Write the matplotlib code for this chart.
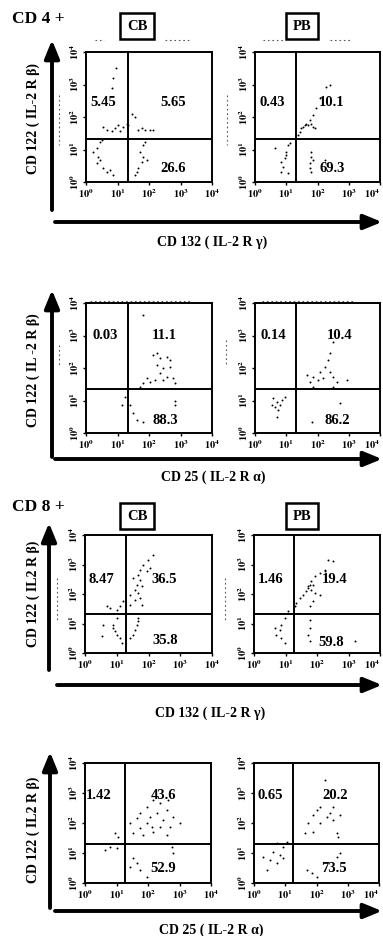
import numpy as np
import matplotlib
matplotlib.use("Agg")
import matplotlib.pyplot as plt

plt.rcParams["font.family"] = ["Liberation Serif", "DejaVu Serif"]
plt.rcParams["font.weight"] = "bold"
plt.rcParams["mathtext.fontset"] = "stix"

W, H = 383, 936

# quadrant percentages per panel: [upper-left, upper-right, lower-right]
cd4_cd132_cb = [5.45, 5.65, 26.6]
cd4_cd132_pb = [0.43, 10.1, 69.3]
cd4_cd25_cb = [0.03, 11.1, 88.3]
cd4_cd25_pb = [0.14, 10.4, 86.2]
cd8_cd132_cb = [8.47, 36.5, 35.8]
cd8_cd132_pb = [1.46, 19.4, 59.8]
cd8_cd25_cb = [1.42, 43.6, 52.9]
cd8_cd25_pb = [0.65, 20.2, 73.5]

# quadrant gates (fluorescence units)
gate_x = [21, 20, 21, 20, 19.5, 18.5, 18.5, 18]
gate_y = [21, 21, 22, 22, 21, 21, 20, 20]

# events (log10 of fluorescence)
dots_1x = [0.95, 0.86, 0.83, 0.54, 0.67, 0.83, 0.92, 1.02, 1.08, 1.17, 1.3, 1.33, 1.46, 1.56,
           1.65, 1.78, 1.87, 2.03, 2.13, 0.35, 0.22, 0.38, 0.44, 0.35, 0.54, 0.67, 0.76, 0.86,
           0.44, 0.5, 1.71, 1.81, 1.78, 1.65, 1.56, 1.94, 1.81, 1.87, 1.62]
dots_1y = [3.5, 3.2, 2.9, 1.7, 1.6, 1.57, 1.66, 1.75, 1.57, 1.7, 1.8, 1.75, 2.1, 2.0,
           1.6, 1.66, 1.6, 1.6, 1.6, 1.05, 0.92, 0.77, 0.68, 0.58, 0.43, 0.31, 0.37, 0.22,
           1.23, 1.3, 0.92, 0.77, 0.62, 0.43, 0.22, 0.68, 1.14, 1.23, 0.31]
dots_2x = [2.27, 2.4, 2.08, 1.95, 1.86, 1.76, 1.63, 1.6, 1.7, 1.79, 1.86, 1.54, 1.47, 1.44,
           1.92, 1.38, 1.06, 0.99, 0.96, 0.83, 0.9, 1.06, 0.99, 1.12, 0.64, 0.83, 1.79, 1.79,
           1.76, 1.76, 1.79, 2.24, 1.86]
dots_2y = [2.92, 2.98, 2.58, 2.28, 2.06, 1.9, 1.8, 1.75, 1.75, 1.8, 1.7, 1.7, 1.66, 1.54,
           1.66, 1.45, 1.14, 0.92, 0.74, 0.62, 0.46, 0.28, 0.83, 1.2, 1.05, 0.31, 0.92, 0.77,
           0.58, 0.43, 0.31, 0.68, 0.68]
dots_3x = [1.81, 2.13, 2.25, 2.44, 2.67, 2.35, 2.57, 2.76, 1.94, 2.03, 1.81, 2.19, 2.44, 2.83,
           1.71, 2.25, 2.57, 2.67, 2.35, 1.4, 1.49, 1.62, 1.81, 2.83, 2.83, 1.14, 1.24]
dots_3y = [3.63, 2.4, 2.1, 2.0, 2.03, 1.85, 1.72, 1.69, 1.69, 1.57, 1.54, 1.63, 1.63, 1.54,
           1.42, 2.46, 2.34, 2.25, 2.3, 0.86, 0.62, 0.4, 0.34, 1.0, 0.86, 0.86, 1.1]
dots_4x = [2.5, 2.4, 2.34, 2.24, 2.08, 2.4, 2.5, 1.86, 2.02, 2.18, 1.76, 1.66, 2.62, 2.94,
           1.86, 2.5, 0.58, 0.7, 0.8, 0.64, 0.74, 0.86, 0.54, 0.7, 0.96, 2.72, 1.82]
dots_4y = [2.8, 2.46, 2.25, 2.03, 1.88, 1.88, 1.72, 1.72, 1.63, 1.69, 1.57, 1.78, 1.57, 1.63,
           1.42, 1.42, 1.08, 0.95, 0.86, 0.8, 0.71, 1.02, 0.86, 0.49, 1.11, 0.92, 0.34]
dots_5x = [2.14, 1.98, 1.83, 1.73, 1.67, 1.51, 1.73, 1.64, 1.8, 1.57, 1.67, 1.42, 1.73, 1.57,
           1.8, 1.42, 1.95, 2.05, 1.2, 1.1, 1.0, 0.69, 0.79, 1.0, 0.88, 0.94, 1.0, 1.1, 0.57,
           0.54, 0.88, 1.17, 1.67, 1.64, 1.57, 1.51, 1.42, 1.67]
dots_5y = [3.32, 3.15, 2.98, 2.81, 2.64, 2.54, 2.47, 2.3, 2.27, 2.14, 2.03, 1.97, 1.86, 1.8,
           1.63, 1.63, 2.78, 2.88, 1.76, 1.6, 1.46, 1.6, 1.53, 1.19, 0.95, 0.75, 0.61, 0.51,
           0.95, 0.58, 0.85, 0.34, 1.19, 0.95, 0.78, 0.61, 0.51, 1.08]
dots_6x = [2.35, 2.5, 2.25, 2.1, 1.94, 1.81, 1.78, 1.87, 1.71, 1.65, 1.81, 1.56, 1.94, 1.46,
           1.33, 1.3, 1.87, 1.78, 2.1, 2.25, 1.71, 1.08, 0.98, 0.86, 0.83, 0.7, 0.86, 0.98,
           0.67, 1.78, 1.78, 1.71, 1.78, 3.2]
dots_6y = [3.15, 3.12, 2.81, 2.71, 2.61, 2.44, 2.3, 2.3, 2.2, 2.1, 2.14, 1.97, 2.03, 1.86,
           1.69, 1.6, 1.76, 1.6, 1.97, 2.78, 2.27, 1.42, 1.19, 0.95, 0.78, 0.61, 0.51, 0.34,
           0.85, 1.12, 0.85, 0.61, 0.41, 0.41]
dots_7x = [1.75, 1.97, 2.16, 2.38, 2.29, 2.48, 2.6, 1.97, 2.13, 1.75, 2.38, 2.7, 2.79, 3.0,
           1.52, 1.84, 2.16, 2.6, 1.43, 1.65, 2.63, 2.06, 0.95, 1.05, 0.79, 1.02, 0.63, 1.52,
           1.65, 1.75, 1.97, 2.79, 2.76, 1.43]
dots_7y = [2.33, 2.53, 2.77, 2.67, 2.33, 2.1, 2.43, 2.0, 1.87, 1.83, 1.87, 1.87, 2.2, 2.0,
           1.67, 1.6, 1.7, 1.6, 2.0, 2.17, 2.77, 2.2, 1.67, 1.53, 1.2, 1.17, 1.1, 0.83, 0.67,
           0.43, 0.2, 1.0, 1.2, 0.53]
dots_8x = [2.27, 2.11, 2.43, 2.34, 2.53, 2.66, 2.69, 1.89, 1.73, 1.63, 1.89, 2.11, 2.02, 2.53,
           2.75, 0.74, 0.93, 0.61, 0.83, 0.51, 0.74, 0.93, 0.42, 1.06, 0.29, 1.7, 1.86, 2.02,
           2.66, 2.75]
dots_8y = [3.43, 2.53, 2.33, 2.2, 2.1, 1.67, 1.53, 2.27, 2.0, 1.67, 1.7, 2.0, 2.43, 2.53,
           2.27, 1.33, 1.2, 1.03, 0.93, 0.77, 0.67, 0.83, 0.43, 1.37, 0.87, 0.43, 0.33, 0.2,
           0.87, 1.0]

panel_values = [cd4_cd132_cb, cd4_cd132_pb, cd4_cd25_cb, cd4_cd25_pb,
                cd8_cd132_cb, cd8_cd132_pb, cd8_cd25_cb, cd8_cd25_pb]
panel_dots = [(dots_1x, dots_1y), (dots_2x, dots_2y), (dots_3x, dots_3y), (dots_4x, dots_4y),
              (dots_5x, dots_5y), (dots_6x, dots_6y), (dots_7x, dots_7y), (dots_8x, dots_8y)]

decades = [1, 10, 100, 1000, 10000]
decade_labels = [r"$10^{0}$", r"$10^{1}$", r"$10^{2}$", r"$10^{3}$", r"$10^{4}$"]

# panel boxes in pixels: left, top, right, bottom
boxes = [(86, 52, 212, 182), (255, 52, 380, 182),
         (86, 303, 212, 433), (255, 303, 380, 433),
         (85, 535, 212, 653), (254, 535, 380, 653),
         (85, 763, 211, 883), (254, 763, 379, 883)]
# label anchor (axes fraction) for UL, UR, LR per panel
label_pos = [
    [(0.14, 0.615), (0.69, 0.615), (0.69, 0.10)],
    [(0.14, 0.615), (0.61, 0.615), (0.62, 0.10)],
    [(0.15, 0.75), (0.62, 0.75), (0.63, 0.10)],
    [(0.15, 0.75), (0.68, 0.75), (0.66, 0.10)],
    [(0.13, 0.62), (0.62, 0.62), (0.63, 0.11)],
    [(0.13, 0.62), (0.64, 0.62), (0.61, 0.085)],
    [(0.11, 0.73), (0.62, 0.73), (0.62, 0.125)],
    [(0.13, 0.73), (0.65, 0.73), (0.64, 0.125)],
]


def frac(l, t, r, b):
    return [l / W, 1 - b / H, (r - l) / W, (b - t) / H]


fig = plt.figure(figsize=(W / 100, H / 100), dpi=100)

# overlay for arrows, titles and axis names (pixel coordinates)
ov = fig.add_axes([0, 0, 1, 1])
ov.set_xlim(0, W)
ov.set_ylim(H, 0)
ov.axis("off")

for i, (box, vals, (dx, dy)) in enumerate(zip(boxes, panel_values, panel_dots)):
    ax = fig.add_axes(frac(*box))
    ax.scatter(10 ** np.array(dx), 10 ** np.array(dy), s=2, color="black", linewidths=0)
    ax.set_xscale("log")
    ax.set_yscale("log")
    ax.set_xlim(1, 10000)
    ax.set_ylim(1, 10000)
    ax.axvline(gate_x[i], color="black", lw=1.4)
    ax.axhline(gate_y[i], color="black", lw=1.4)
    for sp in ax.spines.values():
        sp.set_linewidth(1.4)
    ax.set_xticks(decades)
    xt = ax.set_xticklabels(decade_labels, fontsize=7.5)
    if box[2] > 370:
        xt[-1].set_ha("right")
    ax.set_yticks(decades)
    ax.set_yticklabels(decade_labels, fontsize=7.5, rotation=90, va="center")
    ax.tick_params(which="major", direction="out", length=2.5, width=1, pad=1)
    ax.tick_params(which="minor", direction="out", length=1.5, width=0.6)
    for v, (px, py) in zip(vals, label_pos[i]):
        ax.text(px, py, f"{v:g}" if v >= 1 else f"{v:.2f}", transform=ax.transAxes,
                ha="center", va="center", fontsize=10.5, fontweight="bold")

arrow_kw = dict(arrowstyle="-|>,head_length=1.1,head_width=0.45", lw=2.8, color="black",
                shrinkA=0, shrinkB=0)
# y arrows: x, bottom, top
for x, yb, yt in [(52, 210, 40), (52, 457, 290), (49, 670, 523), (50, 908, 752)]:
    ov.annotate("", xy=(x, yt), xytext=(x, yb), arrowprops=arrow_kw)
# x arrows: y, start
for y, xs in [(222, 55), (459, 55), (685, 57), (911, 55)]:
    ov.annotate("", xy=(382, y), xytext=(xs, y), arrowprops=arrow_kw)

# faint scan speckle lines near the plots
speck = dict(color="0.35", lw=0.8, ls=(0, (1.5, 2.5)))
for xa, xb, y in [(95, 104, 40), (165, 190, 40), (263, 283, 40), (330, 352, 40),
                  (90, 190, 301), (262, 355, 301)]:
    ov.plot([xa, xb], [y, y], **speck)
for x, ya, yb in [(59, 95, 145), (227, 95, 145), (59, 345, 366), (226, 340, 366),
                  (57, 578, 620), (225, 578, 620)]:
    ov.plot([x, x], [ya, yb], **speck)

ylabels = [("CD 122 ( IL-2 R β)", 119), ("CD 122 ( IL -2 R β)", 370),
           ("CD 122 ( IL2 R β)", 594), ("CD 122 ( IL2 R β)", 830)]
for txt, y in ylabels:
    ov.text(33, y, txt, rotation=90, ha="center", va="center", fontsize=10, fontweight="bold")

xlabels = [("CD 132 ( IL-2 R γ)", 212, 242), ("CD 25 ( IL-2 R α)", 213, 477),
           ("CD 132 ( IL-2 R γ)", 210, 713), ("CD 25 ( IL-2 R α)", 211, 930)]
for txt, x, y in xlabels:
    ov.text(x, y, txt, ha="center", va="center", fontsize=10, fontweight="bold")

for txt, y in [("CD 4 +", 19), ("CD 8 +", 507)]:
    ov.text(12, y, txt, ha="left", va="center", fontsize=12.5, fontweight="bold")

for txt, x, y in [("CB", 137, 26), ("PB", 302, 26), ("CB", 137, 516), ("PB", 302, 516)]:
    ov.text(x, y, txt, ha="center", va="center", fontsize=10.5, fontweight="bold",
            bbox=dict(boxstyle="square,pad=0.45", fc="white", ec="black", lw=1.8))

fig.savefig("out.png", dpi=100)
